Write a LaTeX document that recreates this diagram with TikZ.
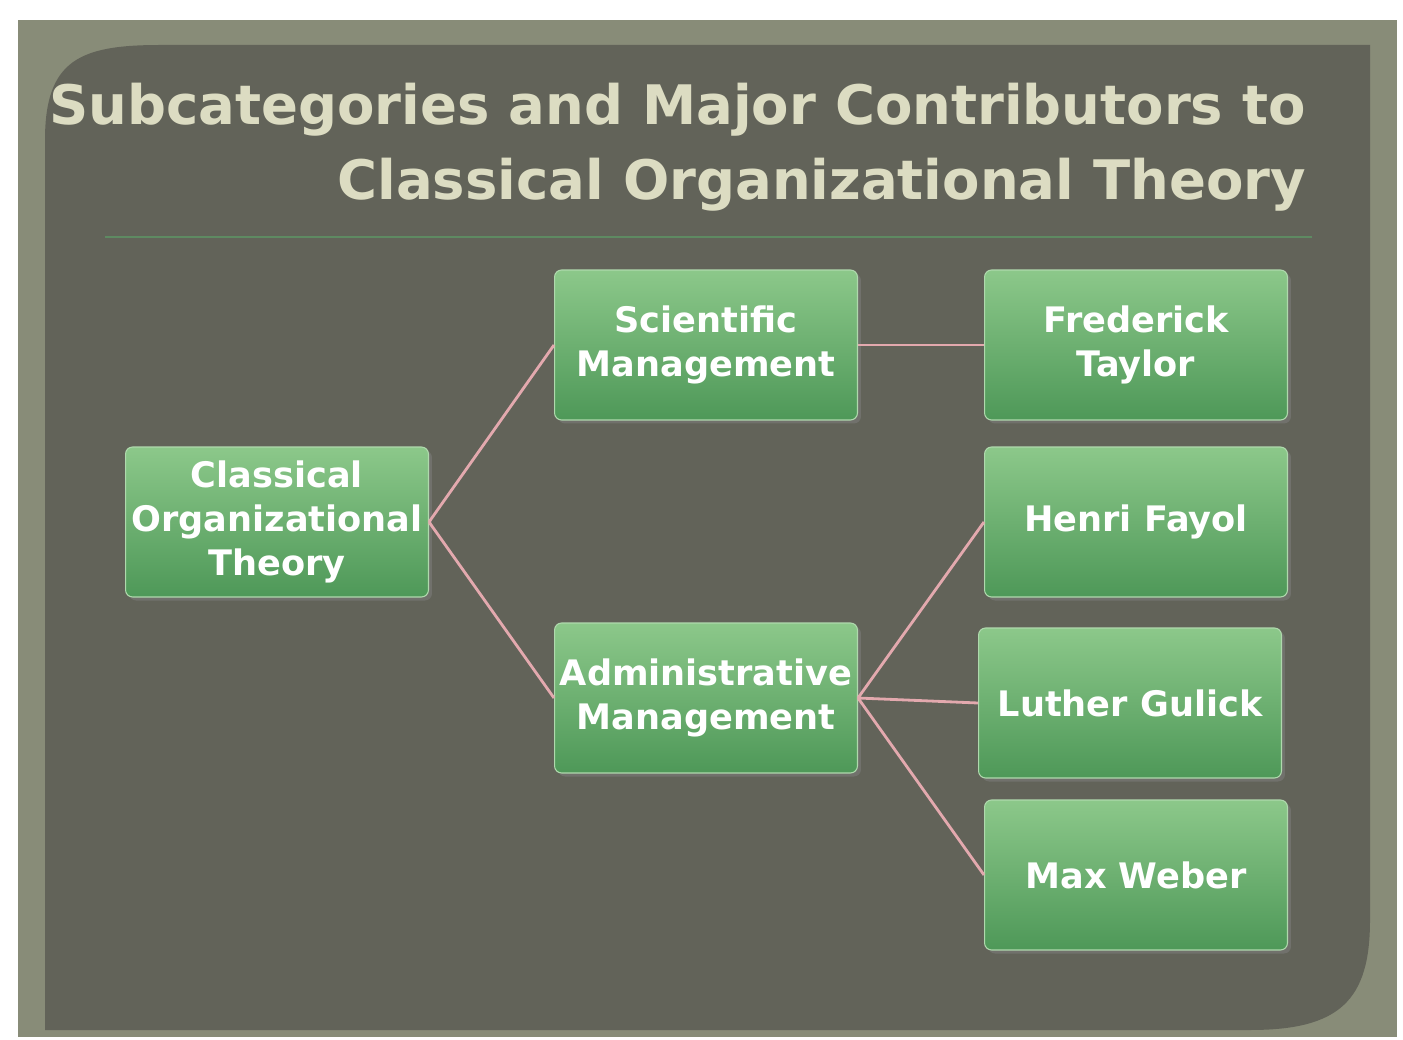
\documentclass[tikz,border=0pt]{standalone}
\usepackage{fontspec}
\setmainfont{DejaVu Sans}
\usetikzlibrary{shadows}
\definecolor{frame}{HTML}{888C78}
\definecolor{panel}{HTML}{626359}
\definecolor{titlec}{HTML}{DCDCC2}
\definecolor{boxtop}{HTML}{8CC88A}
\definecolor{boxbot}{HTML}{4E9858}
\definecolor{link}{HTML}{E3A9AE}
\definecolor{rule}{HTML}{5E8A62}
\tikzset{
 box/.style={rectangle, rounded corners=4pt, minimum width=6.06cm, minimum height=3.0cm,
   top color=boxtop, bottom color=boxbot, draw=boxtop!70!white, line width=0.6pt,
   drop shadow={shadow xshift=2pt,shadow yshift=-2pt,opacity=0.5},
   text=white, font=\bfseries\fontsize{20}{25}\selectfont, align=center, inner sep=1pt},
 conn/.style={draw=link, line width=1.6pt},
 ttl/.style={text=titlec, font=\bfseries\fontsize{31}{38}\selectfont, anchor=east}
}
\begin{document}
\begin{tikzpicture}[x=0.02cm,y=-0.02cm]
\useasboundingbox (0,0) rectangle (1403,1040);
\fill[white] (0,0) rectangle (1403,1040);
\fill[frame] (18,20) rectangle (1397,1037);
\fill[panel] (45,140) .. controls (45,60) and (80,45) .. (160,45) -- (1370,45) -- (1370,920) .. controls (1370,1000) and (1340,1030) .. (1250,1030) -- (45,1030) -- cycle;
\node[ttl] (t1) at (1312,110) {Subcategories and Major Contributors to};
\node[ttl] (t2) at (1312,185) {Classical Organizational Theory};
\draw[draw=rule, line width=1.2pt] (105,237) -- (1312,237);
\node[box] (cot) at (277,522) {Classical\\Organizational\\Theory};
\node[box] (sm) at (706,345) {Scientific\\Management};
\node[box] (am) at (706,698) {Administrative\\Management};
\node[box] (ft) at (1136,345) {Frederick\\Taylor};
\node[box] (hf) at (1136,522) {Henri Fayol};
\node[box] (lg) at (1130,703) {Luther Gulick};
\node[box] (mw) at (1136,875) {Max Weber};
\draw[conn] (cot.east) -- (sm.west);
\draw[conn] (cot.east) -- (am.west);
\draw[conn] (sm.east) -- (ft.west);
\draw[conn] (am.east) -- (hf.west);
\draw[conn] (am.east) -- (lg.west);
\draw[conn] (am.east) -- (mw.west);
\end{tikzpicture}
\end{document}
